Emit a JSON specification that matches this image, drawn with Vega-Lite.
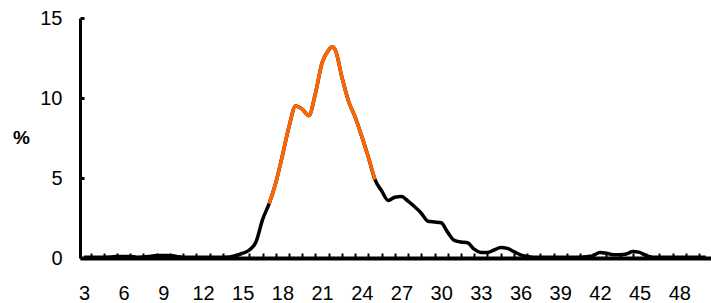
{
  "$schema": "https://vega.github.io/schema/vega-lite/v6.json",
  "width": 631,
  "height": 240,
  "autosize": {"type": "none"},
  "padding": {"left": 80, "top": 18, "right": 0, "bottom": 45},
  "config": {
    "view": {"stroke": null},
    "font": "Liberation Sans"
  },
  "data": {
    "values": [
      {"x": 3, "y": 0.05}, {"x": 3.5, "y": 0.05}, {"x": 4, "y": 0.05}, {"x": 4.5, "y": 0.05},
      {"x": 5, "y": 0.06}, {"x": 5.5, "y": 0.1}, {"x": 6, "y": 0.1}, {"x": 6.5, "y": 0.1},
      {"x": 7, "y": 0.05}, {"x": 7.5, "y": 0.06}, {"x": 8, "y": 0.1}, {"x": 8.5, "y": 0.15},
      {"x": 9, "y": 0.15}, {"x": 9.5, "y": 0.15}, {"x": 10, "y": 0.1}, {"x": 10.5, "y": 0.05},
      {"x": 11, "y": 0.05}, {"x": 11.5, "y": 0.05}, {"x": 12, "y": 0.05}, {"x": 12.5, "y": 0.05},
      {"x": 13, "y": 0.05}, {"x": 13.5, "y": 0.05}, {"x": 14, "y": 0.06}, {"x": 14.5, "y": 0.15},
      {"x": 15, "y": 0.3}, {"x": 15.5, "y": 0.5}, {"x": 16, "y": 1.0}, {"x": 16.5, "y": 2.4},
      {"x": 17, "y": 3.4}, {"x": 17.5, "y": 4.7}, {"x": 18, "y": 6.4}, {"x": 18.5, "y": 8.2},
      {"x": 19, "y": 9.5}, {"x": 19.5, "y": 9.3}, {"x": 20, "y": 8.9}, {"x": 20.5, "y": 10.3},
      {"x": 21, "y": 12.2}, {"x": 21.5, "y": 13.0}, {"x": 21.75, "y": 13.2}, {"x": 22, "y": 13.0},
      {"x": 22.5, "y": 11.3},
      {"x": 23, "y": 9.8}, {"x": 23.5, "y": 8.8}, {"x": 24, "y": 7.6}, {"x": 24.5, "y": 6.3},
      {"x": 25, "y": 4.9}, {"x": 25.5, "y": 4.2}, {"x": 26, "y": 3.6}, {"x": 26.5, "y": 3.8},
      {"x": 27, "y": 3.85}, {"x": 27.5, "y": 3.55}, {"x": 28, "y": 3.2}, {"x": 28.5, "y": 2.8},
      {"x": 29, "y": 2.3}, {"x": 29.5, "y": 2.25}, {"x": 30, "y": 2.2}, {"x": 30.5, "y": 1.6},
      {"x": 31, "y": 1.1}, {"x": 31.5, "y": 1.0}, {"x": 32, "y": 0.95}, {"x": 32.5, "y": 0.55},
      {"x": 33, "y": 0.35}, {"x": 33.5, "y": 0.35}, {"x": 34, "y": 0.5}, {"x": 34.5, "y": 0.65},
      {"x": 35, "y": 0.6}, {"x": 35.5, "y": 0.4}, {"x": 36, "y": 0.2}, {"x": 36.5, "y": 0.1},
      {"x": 37, "y": 0.05}, {"x": 37.5, "y": 0.05}, {"x": 38, "y": 0.05}, {"x": 38.5, "y": 0.05},
      {"x": 39, "y": 0.05}, {"x": 39.5, "y": 0.05}, {"x": 40, "y": 0.05}, {"x": 40.5, "y": 0.05},
      {"x": 41, "y": 0.08}, {"x": 41.5, "y": 0.15}, {"x": 42, "y": 0.35}, {"x": 42.5, "y": 0.3},
      {"x": 43, "y": 0.2}, {"x": 43.5, "y": 0.2}, {"x": 44, "y": 0.25}, {"x": 44.5, "y": 0.4},
      {"x": 45, "y": 0.35}, {"x": 45.5, "y": 0.15}, {"x": 46, "y": 0.05}, {"x": 46.5, "y": 0.05},
      {"x": 47, "y": 0.05}, {"x": 47.5, "y": 0.05}, {"x": 48, "y": 0.05}, {"x": 48.5, "y": 0.05},
      {"x": 49, "y": 0.05}, {"x": 49.5, "y": 0.05}, {"x": 50, "y": 0.05}
    ]
  },
  "encoding": {
    "x": {
      "field": "x",
      "type": "quantitative",
      "scale": {"domain": [2.7, 50.4], "nice": false, "zero": false},
      "axis": {
        "title": null,
        "values": [3,4,5,6,7,8,9,10,11,12,13,14,15,16,17,18,19,20,21,22,23,24,25,26,27,28,29,30,31,32,33,34,35,36,37,38,39,40,41,42,43,44,45,46,47,48,49],
        "labelExpr": "datum.value % 3 === 0 ? datum.label : ''",
        "tickOffset": 6.6,
        "labelOffset": -6.6,
        "tickSize": -5,
        "tickWidth": 2,
        "tickColor": "black",
        "domainColor": "black",
        "domainWidth": 4,
        "grid": false,
        "labelFontSize": 20,
        "labelColor": "black",
        "labelPadding": 30,
        "labelFlush": false,
        "labelOverlap": false
      }
    },
    "y": {
      "field": "y",
      "type": "quantitative",
      "scale": {"domain": [0, 15], "nice": false},
      "axis": {
        "title": "%",
        "titleAngle": 0,
        "titleFontSize": 19,
        "titleFontWeight": "bold",
        "titleColor": "black",
        "titleX": -59,
        "titleY": 119,
        "titleAlign": "center",
        "titleBaseline": "middle",
        "values": [0, 5, 10, 15],
        "tickSize": -4,
        "tickWidth": 3,
        "tickColor": "black",
        "domainColor": "black",
        "domainWidth": 3,
        "grid": false,
        "labelFontSize": 20,
        "labelColor": "black",
        "labelPadding": 22
      }
    }
  },
  "layer": [
    {
      "mark": {"type": "line", "color": "black", "strokeWidth": 3.5, "interpolate": "monotone"}
    },
    {
      "transform": [{"filter": "datum.x >= 17 && datum.x <= 25"}],
      "mark": {"type": "line", "color": "#FF6600", "strokeWidth": 3.5, "interpolate": "monotone"}
    }
  ]
}
